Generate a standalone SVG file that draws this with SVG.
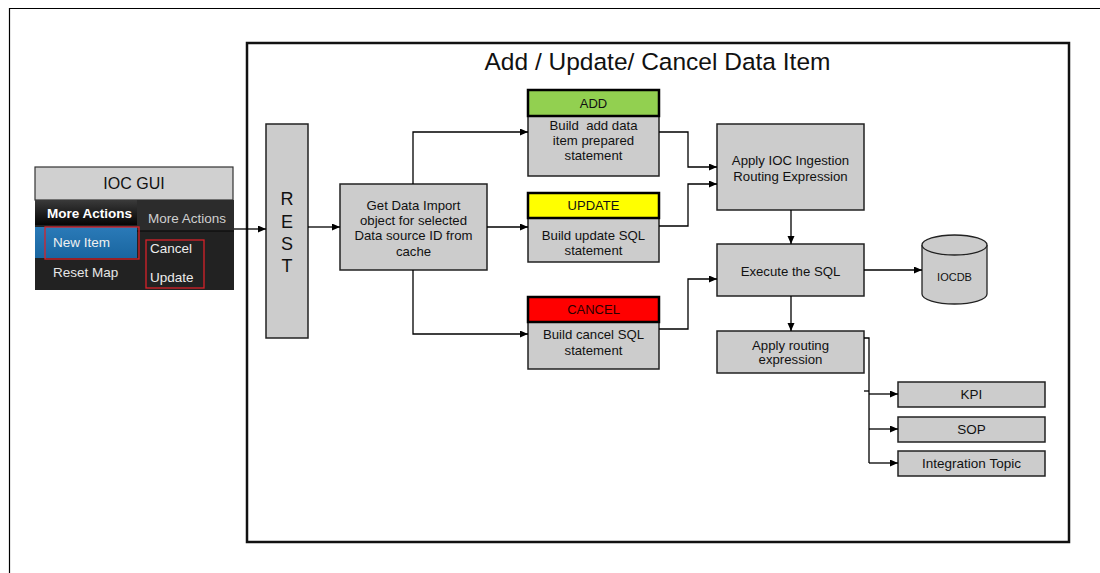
<svg xmlns="http://www.w3.org/2000/svg" width="1100" height="573" viewBox="0 0 1100 573">
<defs>
<marker id="arr" markerUnits="userSpaceOnUse" markerWidth="9" markerHeight="8" refX="8" refY="3.5" orient="auto">
<path d="M0,0 L8,3.5 L0,7 z" fill="#000"/>
</marker>
<linearGradient id="tab" x1="0" y1="0" x2="0" y2="1">
<stop offset="0" stop-color="#3a3a3a"/>
<stop offset="1" stop-color="#050505"/>
</linearGradient>
<linearGradient id="blue" x1="0" y1="0" x2="0" y2="1">
<stop offset="0" stop-color="#2a7ab8"/>
<stop offset="1" stop-color="#1a66a0"/>
</linearGradient>
<style>
.t{font-family:"Liberation Sans",Arial,sans-serif;fill:#111;text-anchor:middle}
.b{font-size:13.2px}
.box{fill:#cccccc;stroke:#222;stroke-width:1.5}
.hdr{stroke:#000;stroke-width:2.5}
.c{fill:none;stroke:#000;stroke-width:1.3}
.m{font-family:"Liberation Sans",Arial,sans-serif;font-size:13.5px}
</style>
</defs>
<rect width="1100" height="573" fill="#fff"/>
<path d="M9.5,573 V8.5 H1100" fill="none" stroke="#000" stroke-width="1.2"/>
<g id="frame">
<rect x="247" y="43" width="822" height="499" fill="none" stroke="#111" stroke-width="2.5"/>
<text class="t" x="657.5" y="70" style="font-size:24.5px">Add / Update/ Cancel Data Item</text>
</g>
<g id="ioc-gui">
<rect x="35" y="167" width="198" height="33" fill="#d0d0d0" stroke="#333" stroke-width="1.2"/>
<text class="t" x="134" y="189" style="font-size:16px">IOC GUI</text>
<rect x="35" y="200" width="199" height="90" fill="#222"/>
<rect x="137" y="200" width="97" height="31" fill="#2c2c2c"/>
<line x1="137" y1="231" x2="234" y2="231" stroke="#111" stroke-width="1.5"/>
<rect x="35" y="200" width="102" height="25" fill="url(#tab)"/>
<text class="m" x="47" y="218" fill="#fff" font-weight="bold" font-size="13px">More Actions</text>
<text class="m" x="148" y="223" fill="#cfcfcf" font-size="13px">More Actions</text>
<rect x="35" y="227" width="102" height="31" fill="url(#blue)"/>
<rect x="45" y="227" width="94" height="32" fill="none" stroke="#d8232a" stroke-width="1.3"/>
<text class="m" x="53" y="247" fill="#f0f0f0">New Item</text>
<text class="m" x="53" y="277" fill="#e6e6e6">Reset Map</text>
<rect x="146" y="240" width="58" height="48" fill="none" stroke="#d8232a" stroke-width="1.3"/>
<text class="m" x="150" y="253" fill="#ececec">Cancel</text>
<text class="m" x="150" y="282" fill="#ececec">Update</text>
</g>
<g id="rest">
<rect class="box" x="266" y="124" width="42" height="214"/>
<text class="t" x="287" y="204.5" style="font-size:18px">R</text>
<text class="t" x="287" y="227.5" style="font-size:18px">E</text>
<text class="t" x="287" y="249.5" style="font-size:18px">S</text>
<text class="t" x="287" y="271.5" style="font-size:18px">T</text>
</g>
<g id="get-data">
<rect class="box" x="340" y="184" width="147" height="86"/>
<text class="t b" x="413.5" y="209.5">Get Data Import</text>
<text class="t b" x="413.5" y="224.5">object for selected</text>
<text class="t b" x="413.5" y="240">Data source ID from</text>
<text class="t b" x="413.5" y="255.5">cache</text>
</g>
<g id="add">
<rect class="box" x="528" y="116" width="131" height="60"/>
<rect class="hdr" x="528" y="90" width="131" height="26" fill="#92d050"/>
<text class="t" x="593.5" y="107.5" style="font-size:13px">ADD</text>
<text class="t b" x="593.5" y="129.5">Build&#160; add data</text>
<text class="t b" x="593.5" y="144.5">item prepared</text>
<text class="t b" x="593.5" y="159.5">statement</text>
</g>
<g id="update">
<rect class="box" x="528" y="218" width="131" height="44"/>
<rect class="hdr" x="528" y="193" width="131" height="25" fill="#ffff00"/>
<text class="t" x="593.5" y="210" style="font-size:13px">UPDATE</text>
<text class="t b" x="593.5" y="239.5">Build update SQL</text>
<text class="t b" x="593.5" y="254.5">statement</text>
</g>
<g id="cancel">
<rect class="box" x="528" y="322" width="131" height="47"/>
<rect class="hdr" x="528" y="297" width="131" height="25" fill="#ff0000"/>
<text class="t" x="593.5" y="314" style="font-size:13px;fill:#2a0000">CANCEL</text>
<text class="t b" x="593.5" y="338.5">Build cancel SQL</text>
<text class="t b" x="593.5" y="354.5">statement</text>
</g>
<g id="apply-ioc">
<rect class="box" x="717" y="124" width="147" height="86"/>
<text class="t b" x="790.5" y="164.5">Apply IOC Ingestion</text>
<text class="t b" x="790.5" y="180.5">Routing Expression</text>
</g>
<g id="execute">
<rect class="box" x="717" y="244" width="147" height="52"/>
<text class="t b" x="790.5" y="275.5">Execute the SQL</text>
</g>
<g id="apply-routing">
<rect class="box" x="717" y="331" width="147" height="42"/>
<text class="t b" x="790.5" y="349.5">Apply routing</text>
<text class="t b" x="790.5" y="363.5">expression</text>
</g>
<g id="iocdb">
<path d="M922,245 V294 A32.5,10 0 0 0 987,294 V245" fill="#cccccc" stroke="#222" stroke-width="1.3"/>
<ellipse cx="954.5" cy="245" rx="32.5" ry="10" fill="#cccccc" stroke="#222" stroke-width="1.3"/>
<text class="t" x="954.5" y="281" style="font-size:11px">IOCDB</text>
</g>
<g id="kpi">
<rect class="box" x="898" y="382" width="147" height="25"/>
<text class="t" x="971.5" y="399" style="font-size:13.5px">KPI</text>
</g>
<g id="sop">
<rect class="box" x="898" y="417" width="147" height="25"/>
<text class="t" x="971.5" y="434" style="font-size:13.5px">SOP</text>
</g>
<g id="integration-topic">
<rect class="box" x="898" y="451" width="147" height="25"/>
<text class="t" x="971.5" y="468" style="font-size:13.5px">Integration Topic</text>
</g>
<g id="connectors">
<path class="c" d="M234,229 H266" marker-end="url(#arr)"/>
<path class="c" d="M308,227 H340" marker-end="url(#arr)"/>
<path class="c" d="M413,184 V132 H528" marker-end="url(#arr)"/>
<path class="c" d="M487,227 H528" marker-end="url(#arr)"/>
<path class="c" d="M413,270 V334 H528" marker-end="url(#arr)"/>
<path class="c" d="M659,132 H688 V167 H717" marker-end="url(#arr)"/>
<path class="c" d="M659,226 H688 V184 H717" marker-end="url(#arr)"/>
<path class="c" d="M659,329 H688 V279 H717" marker-end="url(#arr)"/>
<path class="c" d="M791,210 V244" marker-end="url(#arr)"/>
<path class="c" d="M791,296 V331" marker-end="url(#arr)"/>
<path class="c" d="M864,270 H922" marker-end="url(#arr)"/>
<path class="c" d="M864,338 H869 V463"/>
<path class="c" d="M864,391 H869"/>
<path class="c" d="M869,394 H898" marker-end="url(#arr)"/>
<path class="c" d="M869,429 H898" marker-end="url(#arr)"/>
<path class="c" d="M869,463 H898" marker-end="url(#arr)"/>
</g>
</svg>
